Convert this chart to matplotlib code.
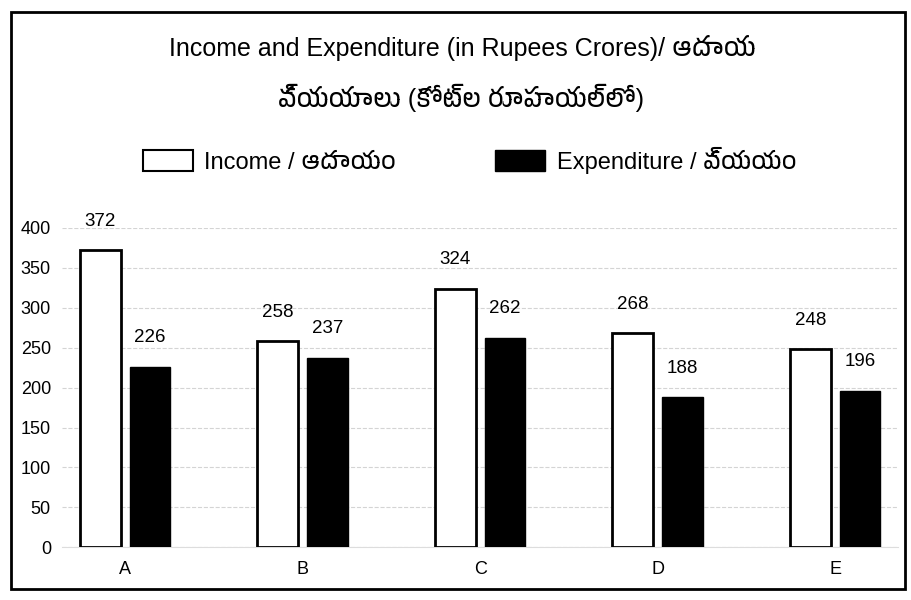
import numpy as np
import matplotlib
matplotlib.use("Agg")
import matplotlib.pyplot as plt
from matplotlib import font_manager
from matplotlib.patches import Rectangle, Patch

# data
categories = ["A", "B", "C", "D", "E"]
income = [372, 258, 324, 268, 248]
expenditure = [226, 237, 262, 188, 196]
y_ticks = [0, 50, 100, 150, 200, 250, 300, 350, 400]

title_line1 = "Income and Expenditure (in Rupees Crores)/ ఆదాయ"
title_line2 = "వ్యయాలు (కోట్ల రూపాయల్లో)"
income_label = "Income / ఆదాయం"
exp_label = "Expenditure / వ్యయం"

# use a Telugu font if one happens to be installed
fams = ["Liberation Sans", "DejaVu Sans"]
telugu = [f.name for f in font_manager.fontManager.ttflist if "Telugu" in f.name]
if telugu:
    fams.insert(1, telugu[0])
plt.rcParams["font.family"] = fams

fig = plt.figure(figsize=(9.12, 6), dpi=100)
ax = fig.add_axes([0.068, 0.088, 0.917, 0.532])

x = np.arange(len(categories))
w = 0.23
off = 0.14
ax.bar(x - off, income, w, color="white", edgecolor="black", linewidth=2, zorder=3)
ax.bar(x + off, expenditure, w, color="black", edgecolor="black", linewidth=1, zorder=3)

for xi, v in zip(x - off, income):
    ax.annotate(str(v), (xi, v), xytext=(0, 21), textcoords="offset points",
                ha="center", va="center", fontsize=13.5, annotation_clip=False)
for xi, v in zip(x + off, expenditure):
    ax.annotate(str(v), (xi, v), xytext=(0, 21), textcoords="offset points",
                ha="center", va="center", fontsize=13.5, annotation_clip=False)

ax.set_xlim(-0.356, 4.356)
ax.set_ylim(0, 400)
ax.set_yticks(y_ticks)
ax.set_xticks(x)
ax.set_xticklabels(categories)
ax.tick_params(length=0, labelsize=13, pad=8)
ax.tick_params(axis="x", pad=10)
ax.yaxis.grid(True, color="#d4d4d4", linestyle="--", linewidth=0.8, zorder=0)
for s in ["top", "right", "left"]:
    ax.spines[s].set_visible(False)
ax.spines["bottom"].set_color("#dddddd")

fig.text(0.507, 0.92, title_line1, ha="center", va="center", fontsize=18)
fig.text(0.505, 0.837, title_line2, ha="center", va="center", fontsize=18)

handles = [Patch(facecolor="white", edgecolor="black", linewidth=1.5),
           Patch(facecolor="black", edgecolor="black")]
fig.legend(handles, [income_label, exp_label], loc="center", bbox_to_anchor=(0.515, 0.733),
           ncol=2, frameon=False, fontsize=17, handlelength=2.1, handleheight=1.0,
           handletextpad=0.5, columnspacing=4.2)

# outer frame around the whole picture
fig.patches.append(Rectangle((0.012, 0.018), 0.98, 0.962, transform=fig.transFigure,
                             fill=False, edgecolor="black", linewidth=2))

fig.savefig("out.png", dpi=100)
